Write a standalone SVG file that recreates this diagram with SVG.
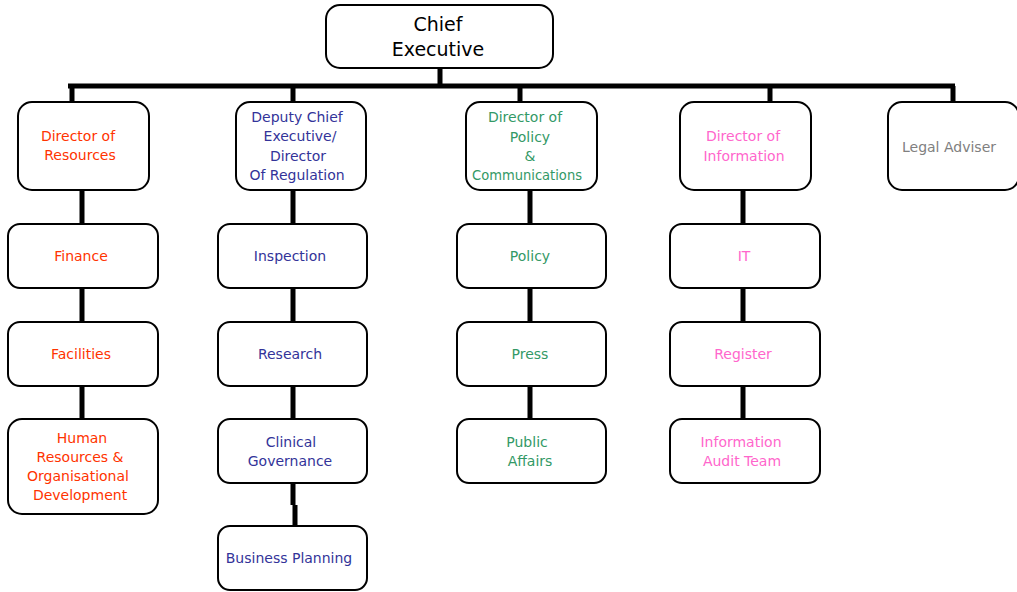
<svg xmlns="http://www.w3.org/2000/svg" width="1017" height="592" viewBox="0 0 1017 592">
<style>
.box{fill:#fff;stroke:#000;stroke-width:2}
.con{stroke:#000;stroke-width:5;fill:none}
text{font-family:"Comic Sans MS","DejaVu Sans",sans-serif;font-size:14px;text-anchor:middle}
.big{font-size:19px;fill:#000}
.red{fill:#FF3300}
.blue{fill:#333399}
.green{fill:#339966}
.pink{fill:#FF66CC}
.grey{fill:#808080}
</style>
<rect width="1017" height="592" fill="#fff"/>
<g id="connectors">
<path class="con" d="M440 69V86M68 86H955M72 86V102M293 86V102M520 86V102M770 86V102M953 86V102"/>
<path class="con" d="M82 190V224M82 288V322M82 386V419"/>
<path class="con" d="M293 190V224M293 288V322M293 386V419M293 483V505M295 505V526"/>
<path class="con" d="M530 190V224M530 288V322M530 386V419"/>
<path class="con" d="M743 190V224M743 288V322M743 386V419"/>
</g>
<g id="chief"><rect class="box" x="326" y="5" width="227" height="63" rx="14"/><text class="big" x="438" y="31">Chief</text><text class="big" x="438" y="56">Executive</text></g>
<g id="dir-resources"><rect class="box" x="18" y="102" width="131" height="88" rx="14"/><text class="red" x="78" y="141">Director of</text><text class="red" x="80" y="160">Resources</text></g>
<g id="deputy"><rect class="box" x="236" y="102" width="130" height="88" rx="14"/><text class="blue" x="297" y="122">Deputy Chief</text><text class="blue" x="300" y="141">Executive/</text><text class="blue" x="298" y="161">Director</text><text class="blue" x="297" y="180">Of Regulation</text></g>
<g id="dir-policy"><rect class="box" x="466" y="102" width="131" height="88" rx="14"/><text class="green" x="525" y="122">Director of</text><text class="green" x="530" y="142">Policy</text><text class="green" x="530" y="161">&amp;</text><text class="green" x="527" y="180" textLength="110" lengthAdjust="spacingAndGlyphs">Communications</text></g>
<g id="dir-info"><rect class="box" x="680" y="102" width="131" height="88" rx="14"/><text class="pink" x="743" y="141">Director of</text><text class="pink" x="744" y="161">Information</text></g>
<g id="legal"><rect class="box" x="888" y="102" width="131" height="88" rx="14"/><text class="grey" x="949" y="152">Legal Adviser</text></g>
<g id="finance"><rect class="box" x="8" y="224" width="150" height="64" rx="12"/><text class="red" x="81" y="261">Finance</text></g>
<g id="facilities"><rect class="box" x="8" y="322" width="150" height="64" rx="12"/><text class="red" x="81" y="359">Facilities</text></g>
<g id="hr"><rect class="box" x="8" y="419" width="150" height="95" rx="14"/><text class="red" x="82" y="443">Human</text><text class="red" x="80" y="462">Resources &amp;</text><text class="red" x="78" y="481">Organisational</text><text class="red" x="80" y="500">Development</text></g>
<g id="inspection"><rect class="box" x="218" y="224" width="149" height="64" rx="12"/><text class="blue" x="290" y="261">Inspection</text></g>
<g id="research"><rect class="box" x="218" y="322" width="149" height="64" rx="12"/><text class="blue" x="290" y="359">Research</text></g>
<g id="clinical"><rect class="box" x="218" y="419" width="149" height="64" rx="12"/><text class="blue" x="291" y="447">Clinical</text><text class="blue" x="290" y="466">Governance</text></g>
<g id="business"><rect class="box" x="218" y="526" width="149" height="64" rx="12"/><text class="blue" x="289" y="563">Business Planning</text></g>
<g id="policy"><rect class="box" x="457" y="224" width="149" height="64" rx="12"/><text class="green" x="530" y="261">Policy</text></g>
<g id="press"><rect class="box" x="457" y="322" width="149" height="64" rx="12"/><text class="green" x="530" y="359">Press</text></g>
<g id="public"><rect class="box" x="457" y="419" width="149" height="64" rx="12"/><text class="green" x="527" y="447">Public</text><text class="green" x="530" y="466">Affairs</text></g>
<g id="it"><rect class="box" x="670" y="224" width="150" height="64" rx="12"/><text class="pink" x="744" y="261">IT</text></g>
<g id="register"><rect class="box" x="670" y="322" width="150" height="64" rx="12"/><text class="pink" x="743" y="359">Register</text></g>
<g id="audit"><rect class="box" x="670" y="419" width="150" height="64" rx="12"/><text class="pink" x="741" y="447">Information</text><text class="pink" x="742" y="466">Audit Team</text></g>
</svg>
